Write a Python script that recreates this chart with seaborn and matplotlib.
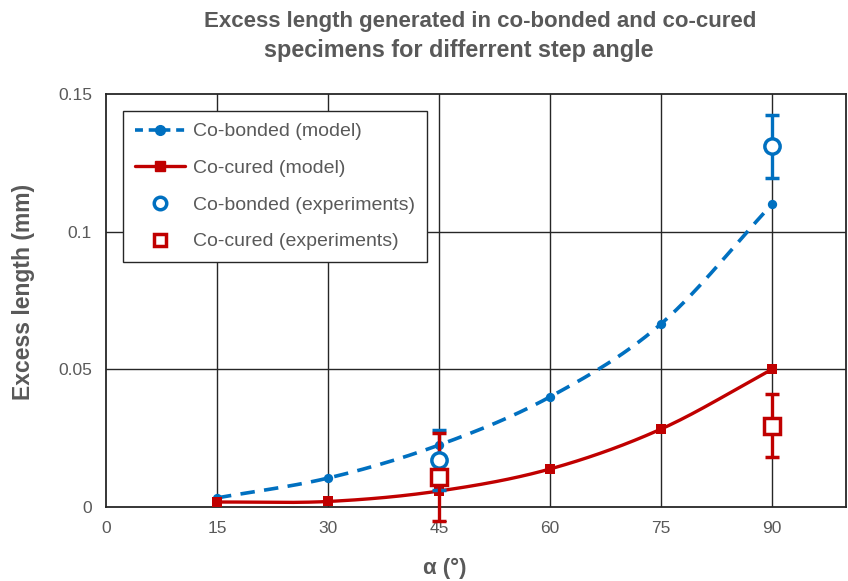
import numpy as np
import matplotlib
matplotlib.use("Agg")
import matplotlib.pyplot as plt
import seaborn as sns
from matplotlib.lines import Line2D

angles = [15, 30, 45, 60, 75, 90]
cobonded_model = [0.0033, 0.0105, 0.0225, 0.0400, 0.0665, 0.1100]
cocured_model = [0.0018, 0.0020, 0.0058, 0.0138, 0.0283, 0.0500]
exp_angles = [45, 90]
cobonded_exp = [0.0170, 0.1310]
cobonded_err = [0.0110, 0.0115]
cocured_exp = [0.0110, 0.0295]
cocured_err = [0.0160, 0.0115]

BLUE = "#0070C0"
RED = "#C00000"
GRAY = "#595959"

sns.set_theme(style="white")
plt.rcParams['font.family'] = ['Liberation Sans', 'DejaVu Sans']


def smooth(x, y, n=30):
    # Catmull-Rom style rendering of the polyline (Excel "smoothed line")
    x = np.asarray(x, float)
    y = np.asarray(y, float)
    px = np.concatenate([[2 * x[0] - x[1]], x, [2 * x[-1] - x[-2]]])
    py = np.concatenate([[2 * y[0] - y[1]], y, [2 * y[-1] - y[-2]]])
    xs, ys = [], []
    t = np.linspace(0, 1, n)
    for i in range(1, len(px) - 2):
        p0, p1, p2, p3 = [np.array([px[j], py[j]]) for j in (i - 1, i, i + 1, i + 2)]
        c1 = p1 + (p2 - p0) / 6
        c2 = p2 - (p3 - p1) / 6
        b = ((1 - t) ** 3)[:, None] * p1 + (3 * (1 - t) ** 2 * t)[:, None] * c1 \
            + (3 * (1 - t) * t ** 2)[:, None] * c2 + (t ** 3)[:, None] * p2
        xs.extend(b[:, 0]); ys.extend(b[:, 1])
    return np.array(xs), np.array(ys)


fig = plt.figure(figsize=(8.48, 5.81), dpi=100)
ax = fig.add_axes([0.125, 0.1274, 0.8726, 0.7106])

# grid
for v in [15, 30, 45, 60, 75, 90]:
    ax.axvline(v, color="#262626", lw=1.0, zorder=1)
for h in [0.05, 0.1]:
    ax.axhline(h, color="#262626", lw=1.0, zorder=1)

sx, sy = smooth(angles, cobonded_model)
ax.plot(sx, sy, color=BLUE, lw=2.6, ls=(0, (4, 2.6)), zorder=3)
sx, sy = smooth(angles, cocured_model)
ax.plot(sx, sy, color=RED, lw=2.4, zorder=3)

sns.scatterplot(x=angles, y=cobonded_model, ax=ax, color=BLUE, marker="o", s=45,
                edgecolor=BLUE, linewidth=0, zorder=4)
sns.scatterplot(x=angles, y=cocured_model, ax=ax, color=RED, marker="s", s=50,
                edgecolor=RED, linewidth=0, zorder=4)

ax.errorbar(exp_angles, cobonded_exp, yerr=cobonded_err, fmt="o", ms=11, mfc="white",
            mec=BLUE, mew=2.5, ecolor=BLUE, elinewidth=2.4, capsize=5, capthick=2.2,
            zorder=5, clip_on=False)
ax.errorbar(exp_angles, cocured_exp, yerr=cocured_err, fmt="s", ms=11, mfc="white",
            mec=RED, mew=2.5, ecolor=RED, elinewidth=2.4, capsize=5, capthick=2.2,
            zorder=5, clip_on=False)

ax.set_xlim(0, 100)
ax.set_ylim(0, 0.15)
ax.set_xticks([0, 15, 30, 45, 60, 75, 90])
ax.set_yticks([0, 0.05, 0.1, 0.15])
ax.set_yticklabels(["0", "0.05", "0.1", "0.15"])
ax.tick_params(axis="both", length=0, labelsize=12.5, labelcolor=GRAY)
ax.tick_params(axis="y", pad=10)
ax.tick_params(axis="x", pad=10)
for sp in ax.spines.values():
    sp.set_color("#262626")
    sp.set_linewidth(1.3)

ax.set_xlabel("")
ax.set_ylabel("")
fig.text(445 / 848, 1 - 568 / 581, "α (°)", ha="center", va="center",
         fontsize=16, fontweight="bold", color=GRAY)
fig.text(24 / 848, 1 - 292 / 581, "Excess length (mm)", ha="center", va="center",
         rotation=90, fontsize=16.5, fontweight="bold", color=GRAY)

fig.text(480 / 848, 1 - 22 / 581, "Excess length generated in co-bonded and co-cured",
         ha="center", va="center", fontsize=16, fontweight="bold", color=GRAY)
fig.text(459 / 848, 1 - 50 / 581, "specimens for differrent step angle",
         ha="center", va="center", fontsize=16.8, fontweight="bold", color=GRAY)

handles = [
    Line2D([0], [0], color=BLUE, lw=2.6, ls=(0, (2.2, 1.6)), marker="o", ms=7,
           mfc=BLUE, mec=BLUE),
    Line2D([0], [0], color=RED, lw=2.4, marker="s", ms=7, mfc=RED, mec=RED),
    Line2D([0], [0], ls="none", marker="o", ms=9, mfc="white", mec=BLUE, mew=2.5),
    Line2D([0], [0], ls="none", marker="s", ms=9, mfc="white", mec=RED, mew=2.5),
]
labels = ["Co-bonded (model)", "Co-cured (model)", "Co-bonded (experiments)",
          "Co-cured (experiments)"]
leg = ax.legend(handles, labels, loc="upper left", bbox_to_anchor=(0.023, 0.959),
                borderaxespad=0,
                fontsize=14, frameon=True, fancybox=False, edgecolor="#262626",
                framealpha=1, handlelength=2.6, handletextpad=0.4, labelspacing=0.98,
                borderpad=0.6, labelcolor=GRAY)
leg.get_frame().set_linewidth(1.0)
leg.set_zorder(10)

fig.savefig("out.png", dpi=100, facecolor="white")
